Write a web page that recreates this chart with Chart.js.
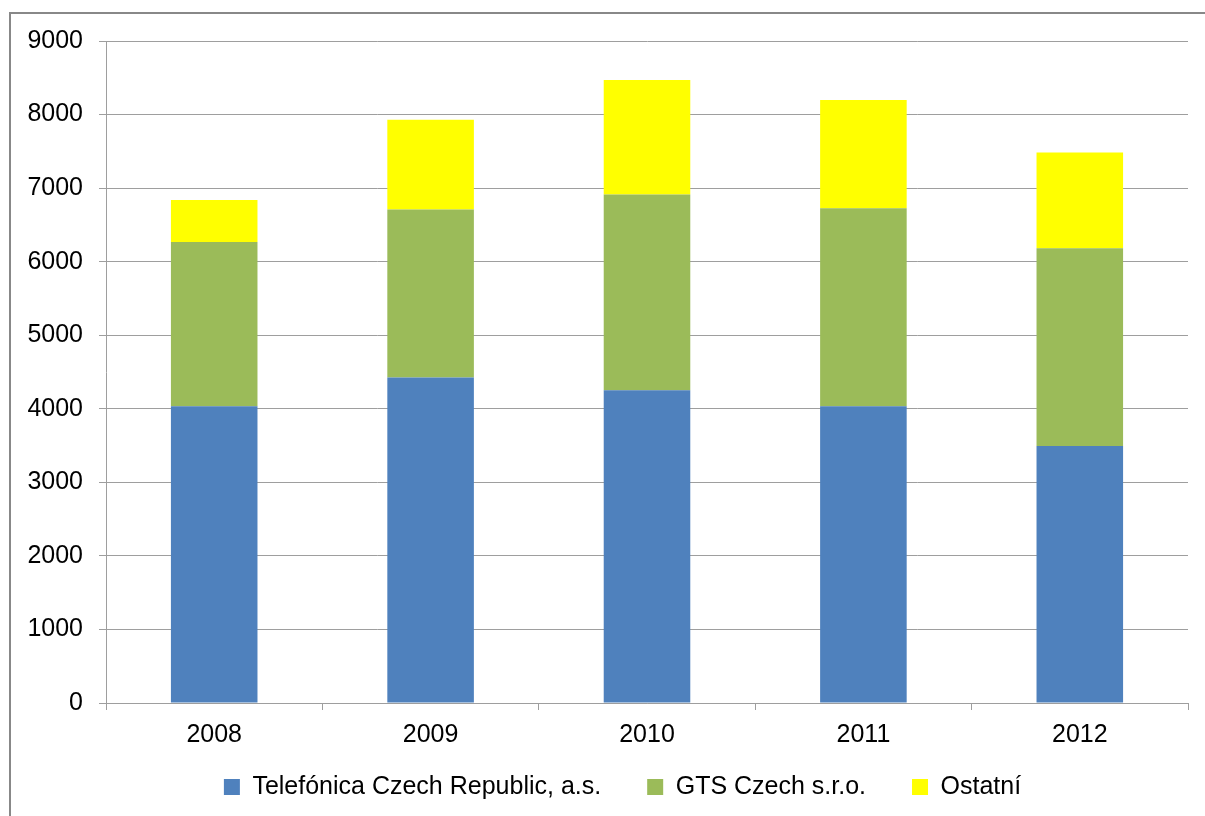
<!DOCTYPE html>
<html>
<head>
<meta charset="utf-8">
<script src="https://cdn.jsdelivr.net/npm/chart.js@4/dist/chart.umd.min.js"></script>
<style>
  html, body { margin: 0; padding: 0; background: #fff; overflow: hidden; }
  #wrap { position: relative; width: 1205px; height: 816px; }
  #frame { position: absolute; left: 9px; top: 12px; width: 1300px; height: 900px; border: 2px solid #888; box-sizing: border-box; }
  canvas { position: absolute; left: 0; top: 0; }
</style>
</head>
<body>
<div id="wrap">
  <div id="frame"></div>
  <canvas id="chart" width="1205" height="816"></canvas>
</div>
<script>
// categories and series
const years = ['2008', '2009', '2010', '2011', '2012'];
const telefonica = [4035, 4425, 4252, 4035, 3494];
const gts = [2233, 2283, 2660, 2691, 2688];
const ostatni = [571, 1221, 1557, 1471, 1302];
const yTicks = [0, 1000, 2000, 3000, 4000, 5000, 6000, 7000, 8000, 9000];

const gridGray = '#9e9e9e';
const font = { family: "'Liberation Sans', Arial, sans-serif", size: 25 };

function makeDataset(label, values, color) {
    return {
        label: label,
        data: values,
        backgroundColor: color,
        borderWidth: 0,
        barPercentage: 0.4,
        categoryPercentage: 1.0
    };
}

// move the legend box so it sits where the original one does
const legendPlace = {
    id: 'legendPlace',
    afterLayout(chart) {
        const lg = chart.legend;
        lg.left = 57;
        lg.top = 728.5;
        lg.height = 87;
        lg.bottom = lg.top + lg.height;
    }
};

const ctx = document.getElementById('chart').getContext('2d');
new Chart(ctx, {
    type: 'bar',
    data: {
        labels: years,
        datasets: [
            makeDataset('Telefónica Czech Republic, a.s.', telefonica, '#4f81bd'),
            makeDataset('GTS Czech s.r.o.', gts, '#9bbb59'),
            makeDataset('Ostatní', ostatni, '#ffff00')
        ]
    },
    plugins: [legendPlace],
    options: {
        responsive: false,
        animation: false,
        layout: { padding: { left: 10, right: 17, top: 41, bottom: 0 } },
        plugins: {
            tooltip: { enabled: false },
            legend: {
                position: 'bottom',
                maxHeight: 68,
                labels: {
                    color: '#000',
                    font: font,
                    boxWidth: 16,
                    boxHeight: 16,
                    padding: 46
                }
            }
        },
        scales: {
            x: {
                stacked: true,
                afterFit: s => { s.height = 45; },
                grid: {
                    offset: true,
                    drawOnChartArea: false,
                    drawTicks: true,
                    tickLength: 7,
                    color: gridGray
                },
                border: { display: true, color: gridGray },
                ticks: { color: '#000', font: font, padding: 10 }
            },
            y: {
                stacked: true,
                min: 0,
                max: 9000,
                afterFit: s => { s.width = 96; },
                afterBuildTicks: s => { s.ticks = yTicks.map(v => ({ value: v })); },
                grid: {
                    color: gridGray,
                    lineWidth: 1,
                    drawTicks: true,
                    tickLength: 7
                },
                border: { display: true, color: gridGray },
                ticks: {
                    color: '#000',
                    font: font,
                    padding: 16,
                    callback: v => String(v)
                }
            }
        }
    }
});
</script>
</body>
</html>
